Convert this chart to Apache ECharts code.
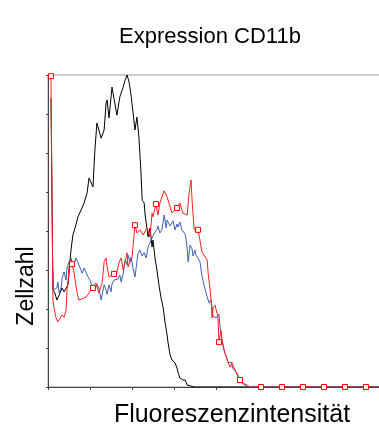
<!DOCTYPE html>
<html>
<head>
<meta charset="utf-8">
<script src="https://cdn.jsdelivr.net/npm/echarts@6/dist/echarts.min.js"></script>
<style>html,body{margin:0;padding:0;background:#fff}#c{width:379px;height:427px}</style>
</head>
<body>
<div id="c"></div>
<script>
// ---- data (channel 0..1024, cell count 0..800) ----
var titleText = 'Expression CD11b';
var xName = 'Fluoreszenzintensität';
var yName = 'Zellzahl';

var blackChannels = [9,15,21,27,34,43,49,55,61,67,70,76,85,91,101,110,119,125,131,137,143,149,155,162,171,177,180,186,195,201,210,219,229,235,241,247,253,259,265,271,277,283,287,293,296,302,305,311,317,320,326,332,338,344,351,357,363,366,372,378,387,393,396,402,411,418,424,427,433,439,445,1024];
var blackCounts   = [740,249,241,223,236,254,244,241,262,321,351,390,415,436,454,472,497,536,538,513,608,677,679,638,659,728,736,690,769,764,697,744,769,787,800,782,749,705,659,692,641,556,479,472,441,446,385,408,359,377,331,300,262,231,203,164,133,113,82,69,62,49,38,23,18,18,5,0,3,5,0,0];

var blueChannels = [15,17,27,30,34,40,43,49,55,58,64,70,73,79,85,91,98,104,110,116,122,128,134,140,146,149,155,162,165,171,177,180,186,192,195,201,207,213,219,223,229,235,241,244,250,253,259,265,271,274,280,287,293,299,305,311,317,320,326,332,335,341,347,351,354,360,363,366,372,375,381,387,393,396,402,408,411,418,421,424,427,433,439,442,445,448,451,457,463,469,475,485,491,497,503,512,521,524,530,536,546,549,558,564,576,585,594,607,616,1024];
var blueCounts   = [300,249,254,269,241,254,279,295,274,305,321,331,321,313,331,326,305,292,305,300,282,274,259,249,256,264,254,223,236,262,249,238,262,244,264,274,272,277,287,269,290,326,313,338,321,333,305,282,321,341,351,336,344,331,359,364,382,387,397,403,413,395,403,423,441,408,428,433,413,415,426,403,418,410,423,403,400,392,377,356,321,364,354,336,331,351,338,331,321,287,262,231,215,223,182,177,187,156,121,95,72,62,64,46,36,18,10,5,0,0];

var redChannels = [3,9,15,18,24,30,34,43,49,55,58,61,64,70,73,79,88,94,104,116,125,131,137,146,155,165,171,177,180,186,192,201,207,216,223,229,235,241,244,250,256,265,271,280,290,302,311,317,320,329,335,341,347,354,363,369,378,384,393,402,408,411,424,430,436,439,445,451,457,463,469,475,485,488,494,497,500,503,509,515,518,521,527,530,539,549,555,561,570,576,585,591,600,610,649,713,777,841,905,969,1024];
var redCounts   = [900,797,223,205,179,167,172,185,179,197,249,269,308,326,315,295,244,223,226,231,241,249,254,267,241,267,321,331,308,282,287,290,282,318,331,300,321,344,308,321,331,415,395,403,390,408,385,446,436,469,441,472,487,503,487,485,446,451,459,472,467,446,441,497,531,479,408,397,403,377,346,344,326,292,249,223,177,203,210,210,179,115,146,121,87,62,51,62,44,31,18,10,5,0,0,0,0,0,0,0,0];

var markerChannels = [9,73,137,201,265,329,393,457,521,585,649,713,777,841,905,969];

var xTicks = [0,128,256,384,512,640,768,896,1024];
var yTicks = [0,100,200,300,400,500,600,700,800];

function pairs(xs, ys){ return xs.map(function(x,i){ return [x, ys[i]]; }); }

var markerSet = {};
markerChannels.forEach(function(c){ markerSet[c] = true; });

var chart = echarts.init(document.getElementById('c'), null, {renderer:'canvas'});
chart.setOption({
  animation:false,
  backgroundColor:'#ffffff',
  title:{
    text:titleText, left:205, top:21, textAlign:'center',
    textStyle:{fontFamily:'Liberation Sans', fontSize:22, fontWeight:'normal', color:'#000'}
  },
  grid:{left:48, top:75, right:-5, bottom:40, outerBoundsMode:'none', containLabel:false,
        show:true, borderColor:'#999', borderWidth:1, backgroundColor:'transparent'},
  xAxis:{
    type:'value', min:xTicks[0], max:xTicks[xTicks.length-1], interval:xTicks[1]-xTicks[0],
    name:xName, nameLocation:'middle', nameGap:16,
    nameTextStyle:{fontFamily:'Liberation Sans', fontSize:25, color:'#000', padding:[0,0,0,32]},
    axisLine:{lineStyle:{color:'#444', width:1}},
    axisTick:{show:true, inside:false, length:3, lineStyle:{color:'#444'}},
    axisLabel:{show:false}, splitLine:{show:false}
  },
  yAxis:{
    type:'value', min:yTicks[0], max:yTicks[yTicks.length-1], interval:yTicks[1]-yTicks[0],
    name:yName, nameLocation:'middle', nameGap:10,
    nameTextStyle:{fontFamily:'Liberation Sans', fontSize:23, color:'#000', padding:[0,110,0,0]},
    axisLine:{show:true, lineStyle:{color:'#444', width:1}},
    axisTick:{show:true, inside:false, length:2, lineStyle:{color:'#444'}},
    axisLabel:{show:false}, splitLine:{show:false}
  },
  series:[
    {type:'line', name:'black', data:pairs(blackChannels, blackCounts), showSymbol:false, symbol:'none',
     lineStyle:{color:'#000', width:1}, z:2, clip:true},
    {type:'line', name:'blue', data:pairs(blueChannels, blueCounts), showSymbol:false, symbol:'none',
     lineStyle:{color:'#3d5fb3', width:1}, z:3, clip:true},
    {type:'line', name:'red', data:pairs(redChannels, redCounts), showAllSymbol:true,
     symbol:function(v){ return markerSet[v[0]] ? 'rect' : 'none'; },
     symbolSize:5,
     itemStyle:{color:'#fff', borderColor:'#ff0000', borderWidth:1},
     lineStyle:{color:'#ff2020', width:1}, z:4, clip:true}
  ]
});
</script>
</body>
</html>
